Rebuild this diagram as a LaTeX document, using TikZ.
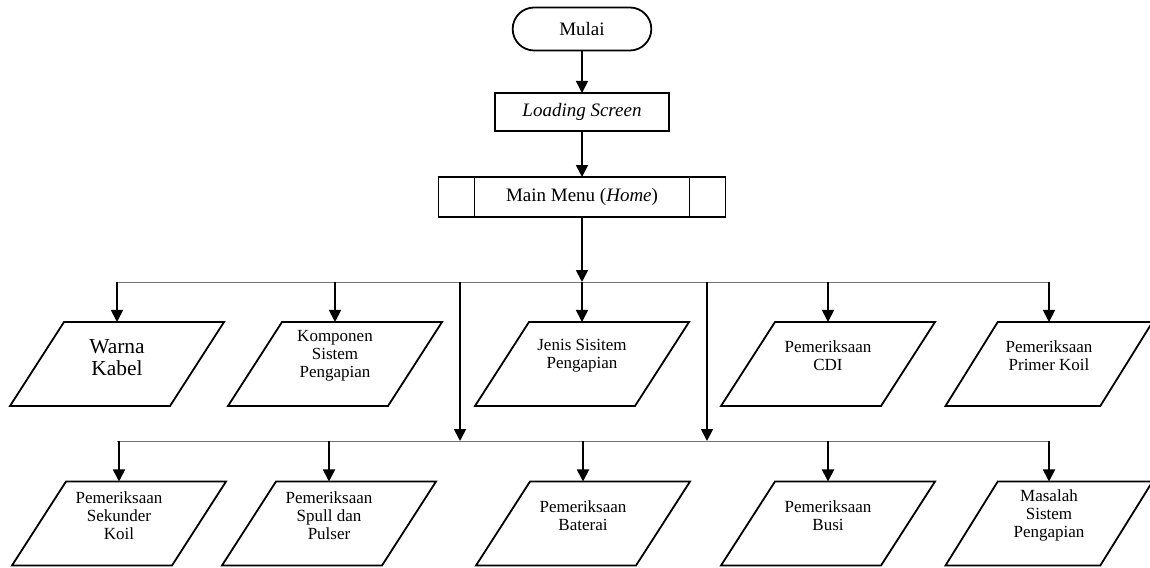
\documentclass[tikz,border=0pt]{standalone}
\usepackage{fontspec}
\setmainfont{Liberation Serif}
\usetikzlibrary{shapes.misc,shapes.geometric,arrows.meta}
\tikzstyle{every node}=[outer sep=0pt]
\tikzstyle{terminal}=[rounded rectangle, draw, minimum width=76pt, minimum height=21.5pt, font=\fontsize{9.5}{11}\selectfont]
\tikzstyle{process}=[rectangle, draw, minimum width=87pt, minimum height=19pt, font=\fontsize{9.5}{11}\selectfont]
\tikzstyle{subproc}=[rectangle, draw, minimum width=143.5pt, minimum height=20pt, font=\fontsize{9.5}{11}\selectfont]
\tikzstyle{io}=[trapezium, trapezium left angle=63, trapezium right angle=117, trapezium stretches=true, draw, minimum width=107pt, minimum height=42pt]
\tikzstyle{iotext}=[align=center, inner sep=0pt, font=\fontsize{8.5}{9}\selectfont]
\tikzstyle{flow}=[-{Triangle[width=6pt,length=6pt]}]
\tikzstyle{bus}=[black!55, line width=0.5pt]

\begin{document}
\begin{tikzpicture}[x=0.5pt, y=-0.5pt, line width=0.9pt]
\useasboundingbox (0,0) rectangle (1150,567);
% Start and menu
    \node[terminal] (mulai) at (582,29) {Mulai};
    \node[process] (loading) at (582,112) {\textit{Loading Screen}};
    \node[subproc] (menu) at (582,197) {Main Menu (\textit{Home})};
    \draw ([xshift=18pt]menu.north west) -- ([xshift=18pt]menu.south west);
    \draw ([xshift=-18pt]menu.north east) -- ([xshift=-18pt]menu.south east);
    \draw[flow] (mulai) -- (loading);
    \draw[flow] (loading) -- (menu);
% Hubs
    \coordinate (hub1) at (582,282);
    \coordinate (hub2) at (582,441);
    \coordinate (split1) at (460,282);
    \coordinate (split2) at (707,282);
    \draw[flow] (menu) -- (hub1);
% Top row
    \node[io] (warna) at (117,364) {};
    \node[io] (komponen) at (335,364) {};
    \node[io] (jenis) at (582,364) {};
    \node[io] (cdi) at (828,364) {};
    \node[io, minimum width=103.5pt] (primer) at (1049,364) {};
    \node[iotext, font=\fontsize{10.7}{11}\selectfont] (warna-t) at ([yshift=3pt]warna.center) {Warna\\Kabel};
    \node[iotext] (komponen-t) at ([yshift=4pt]komponen.center) {Komponen\\Sistem\\Pengapian};
    \node[iotext] (jenis-t) at ([yshift=4pt]jenis.center) {Jenis Sisitem\\Pengapian};
    \node[iotext] (cdi-t) at ([yshift=4pt]cdi.center) {Pemeriksaan\\CDI};
    \node[iotext] (primer-t) at ([yshift=4pt]primer.center) {Pemeriksaan\\Primer Koil};
% Bottom row
    \node[io] (sekunder) at (119,523.5) {};
    \node[io] (spull) at (329,523.5) {};
    \node[io] (baterai) at (583,523.5) {};
    \node[io] (busi) at (828,523.5) {};
    \node[io, minimum width=103.5pt] (masalah) at (1049,523.5) {};
    \node[iotext] (sekunder-t) at ([yshift=4pt]sekunder.center) {Pemeriksaan\\Sekunder\\Koil};
    \node[iotext] (spull-t) at ([yshift=4pt]spull.center) {Pemeriksaan\\Spull dan\\Pulser};
    \node[iotext] (baterai-t) at ([yshift=4pt]baterai.center) {Pemeriksaan\\Baterai};
    \node[iotext] (busi-t) at ([yshift=4pt]busi.center) {Pemeriksaan\\Busi};
    \node[iotext] (masalah-t) at ([yshift=4pt]masalah.center) {Masalah\\Sistem\\Pengapian};
% Bus lines and arrows
    \draw[bus] (warna.north |- hub1) -- (primer.north |- hub1);
    \draw[bus] (warna.north |- hub2) -- (masalah.north |- hub2);
    \foreach \n in {warna,komponen,jenis,cdi,primer}
        \draw[flow] (\n.north |- hub1) -- (\n.north);
    \foreach \n in {sekunder,spull,baterai,busi,masalah}
        \draw[flow] (\n.north |- hub2) -- (\n.north);
    \draw[flow] (split1) -- (split1 |- hub2);
    \draw[flow] (split2) -- (split2 |- hub2);
\end{tikzpicture}
\end{document}
